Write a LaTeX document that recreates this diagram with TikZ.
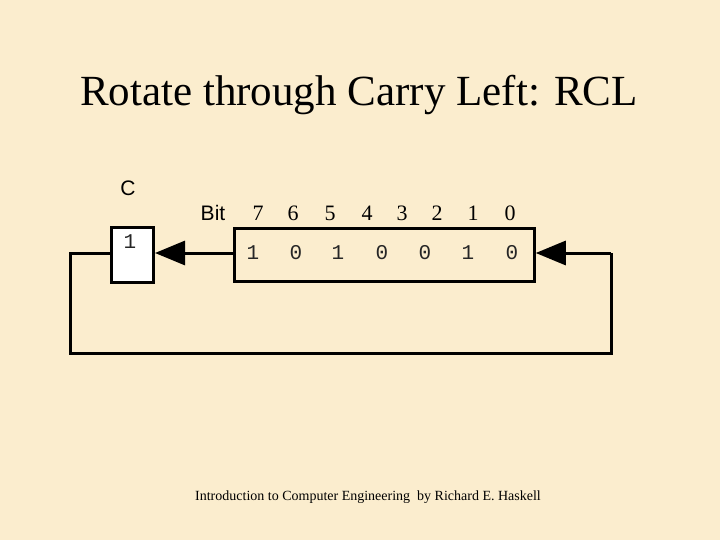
\documentclass[tikz,border=0pt]{standalone}
\usepackage{fontspec}
\setmainfont{Liberation Serif}
\newfontfamily\arialf{Liberation Sans}
\newfontfamily\courf{Liberation Mono}
\usetikzlibrary{arrows.meta}
\definecolor{bgc}{RGB}{251,237,206}
\tikzset{
  wire/.style={line width=3pt, line join=miter},
  arr/.style={wire, -{Triangle[length=30pt,width=24pt]}},
  bitnum/.style={font=\fontsize{22}{24}\selectfont, inner sep=0pt},
  bitval/.style={font=\courf\fontsize{21}{24}\selectfont, inner sep=0pt, text=black!85},
  lbl/.style={font=\arialf\fontsize{21}{23}\selectfont, inner sep=0pt}
}
\begin{document}
\begin{tikzpicture}[x=1pt,y=-1pt]
\fill[bgc] (0,0) rectangle (720,540);
\useasboundingbox (0,0) rectangle (720,540);
\node[inner sep=0pt, font=\fontsize{43}{47}\selectfont] (title) at (359,95) {Rotate through Carry Left: RCL};
\node[lbl] (clbl) at (128,188) {C};
\node[lbl] (bitlbl) at (213,213) {Bit};
\node[draw, line width=3pt, fill=white, minimum width=42pt, minimum height=54pt, inner sep=0pt] (cbox) at (132.5,255) {};
\node[bitval] (cval) at (130,242) {1};
\node[draw, line width=2.5pt, minimum width=300pt, minimum height=53pt, inner sep=0pt] (reg) at (384.5,255) {};
\foreach \x/\n [count=\i] in {258/7,293/6,330/5,367/4,402/3,437/2,473/1,510/0}
  \node[bitnum] (b\i) at (\x,213) {\n};
\foreach \x/\v [count=\i] in {253/1,296/0,338/1,382/0,425/0,468/1,512/0}
  \node[bitval] (v\i) at (\x,253) {\v};
\coordinate (rtop) at (611,253);
\coordinate (rbot) at (611,353);
\coordinate (lbot) at (70,353);
\coordinate (ltop) at (70,253);
\draw[arr] (reg.west |- 0,253) -- (cbox.east |- 0,253);
\draw[arr] (rtop) -- (reg.east |- 0,253);
\draw[wire] (rtop) -- (rbot) -- (lbot) -- (ltop) -- (cbox.west |- 0,253);
\node[inner sep=0pt, font=\fontsize{14}{16}\selectfont] (foot) at (368,497) {Introduction to Computer Engineering\ \ by Richard E. Haskell};
\end{tikzpicture}
\end{document}
